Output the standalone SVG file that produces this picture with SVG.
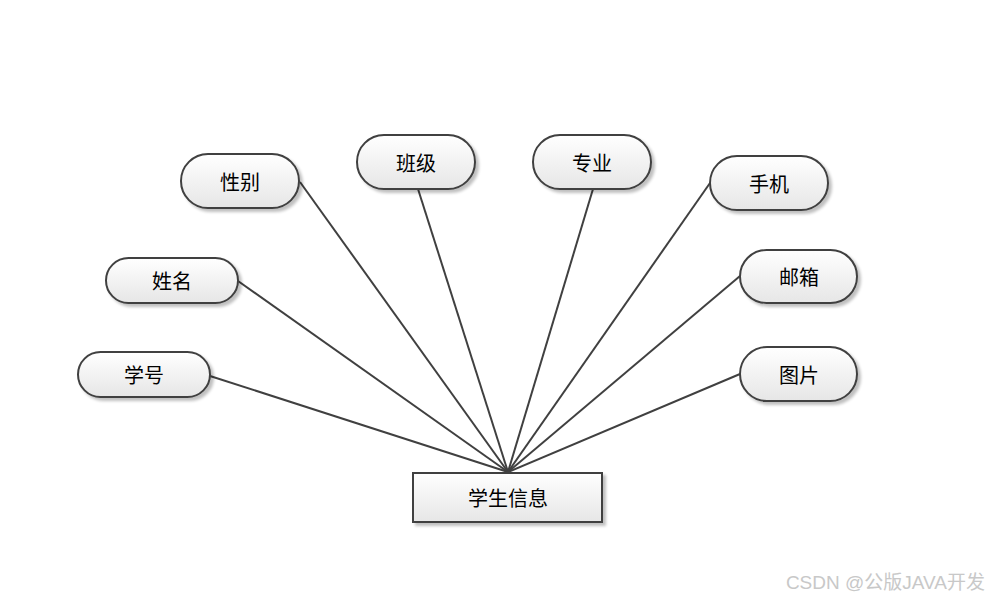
<svg xmlns="http://www.w3.org/2000/svg" width="990" height="600" viewBox="0 0 990 600">
<defs>
<linearGradient id="g" x1="0" y1="0" x2="0" y2="1">
<stop offset="0" stop-color="#ffffff"/>
<stop offset="1" stop-color="#e6e6e6"/>
</linearGradient>
<filter id="sh" x="-10%" y="-20%" width="130%" height="150%">
<feGaussianBlur in="SourceAlpha" stdDeviation="1.5"/>
<feOffset dx="3" dy="3" result="b"/>
<feComponentTransfer><feFuncA type="linear" slope="0.25"/></feComponentTransfer>
<feMerge><feMergeNode/><feMergeNode in="SourceGraphic"/></feMerge>
</filter>
<style>
.n{fill:url(#g);stroke:#404040;stroke-width:2;filter:url(#sh)}
.t{font-family:"Noto Sans CJK SC","Liberation Sans",sans-serif;font-size:20px;fill:#000;text-anchor:middle;dominant-baseline:central}
.c line{stroke:#404040;stroke-width:2}
.w{font-family:"Liberation Sans","Noto Sans CJK SC",sans-serif;font-size:19px;fill:#c8c8c8;text-anchor:end}
</style>
</defs>
<rect width="990" height="600" fill="#fff"/>
<g class="c" id="connectors">
<line x1="210" y1="376" x2="508" y2="472"/>
<line x1="238" y1="281" x2="508" y2="472"/>
<line x1="300" y1="182" x2="508" y2="472"/>
<line x1="418" y1="189" x2="508" y2="472"/>
<line x1="593" y1="189" x2="508" y2="472"/>
<line x1="710" y1="183" x2="508" y2="472"/>
<line x1="740" y1="276" x2="508" y2="472"/>
<line x1="740" y1="374" x2="508" y2="472"/>
</g>
<g id="xuehao"><rect class="n" x="78" y="352" width="132" height="45" rx="22.5"/><text class="t" x="144" y="374">学号</text></g>
<g id="xingming"><rect class="n" x="106" y="258" width="132" height="45" rx="22.5"/><text class="t" x="172" y="280">姓名</text></g>
<g id="xingbie"><rect class="n" x="181" y="154" width="118" height="54" rx="27"/><text class="t" x="240" y="181">性别</text></g>
<g id="banji"><rect class="n" x="357" y="135" width="118" height="54" rx="27"/><text class="t" x="416" y="162">班级</text></g>
<g id="zhuanye"><rect class="n" x="533" y="135" width="118" height="54" rx="27"/><text class="t" x="592" y="162">专业</text></g>
<g id="shouji"><rect class="n" x="710" y="156" width="118" height="54" rx="27"/><text class="t" x="769" y="183">手机</text></g>
<g id="youxiang"><rect class="n" x="740" y="250" width="117" height="53" rx="26.5"/><text class="t" x="799" y="276">邮箱</text></g>
<g id="tupian"><rect class="n" x="740" y="347" width="117" height="54" rx="27"/><text class="t" x="799" y="374">图片</text></g>
<g id="xueshengxinxi"><rect class="n" x="413" y="473" width="189" height="49" rx="0"/><text class="t" x="508" y="497">学生信息</text></g>
<text class="w" x="985" y="589">CSDN @公版JAVA开发</text>
</svg>
